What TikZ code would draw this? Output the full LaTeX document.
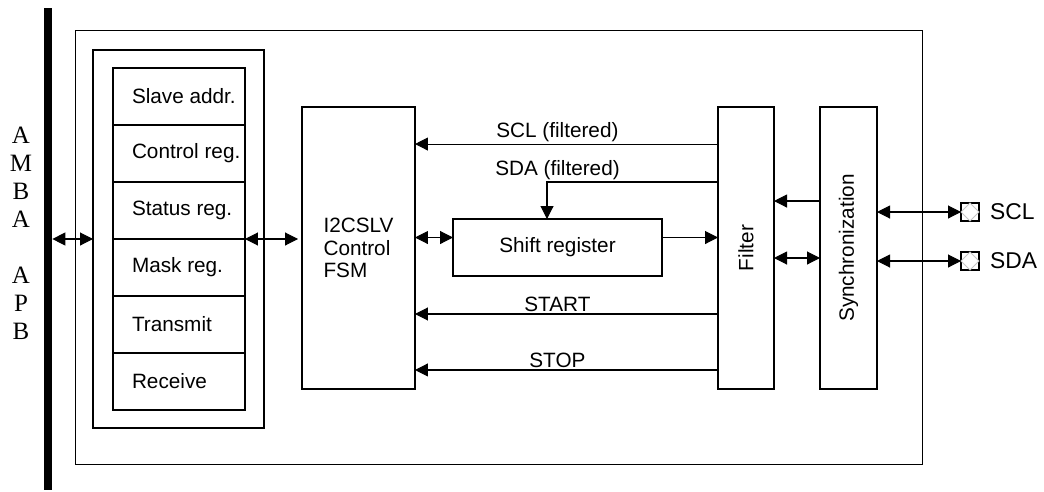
\documentclass[tikz,border=0pt]{standalone}
\usepackage{fontspec}
\setmainfont{Liberation Sans}
\newfontfamily\busfont{Liberation Serif}
\usetikzlibrary{arrows.meta,positioning}

\begin{document}
\begin{tikzpicture}[x=0.02cm, y=-0.02cm,
    font=\fontsize{11.8}{13}\selectfont,
    blk/.style={draw, line width=1.1pt, inner sep=0pt, outer sep=0pt},
    regrow/.style={blk, minimum width=2.64cm, minimum height=1.14cm, inner xsep=0.38cm},
    sig/.style={line width=0.6pt, -{Triangle[length=0.26cm, width=0.26cm]}},
    bisig/.style={line width=0.6pt, {Triangle[length=0.26cm, width=0.26cm]}-{Triangle[length=0.26cm, width=0.26cm]}},
    lbl/.style={inner sep=1pt},
    pad/.style={blk, minimum size=0.36cm}]
  \useasboundingbox (0,0) rectangle (1044,491);
  % APB bus
  \node[fill, inner sep=0pt, minimum width=0.16cm, minimum height=9.64cm] (apb) at (48,249) {};
  \node[font={\busfont\fontsize{14.2}{15.9}\selectfont}, align=center, inner sep=0pt] (apbname)
    at (21,233.5) {A\\M\\B\\A\\[15.9pt]A\\P\\B};
  % slave core
  \draw[line width=0.5pt] (75,30) rectangle (922,464);
  \node[blk, minimum width=3.42cm, minimum height=7.56cm] (regbox) at (178.5,239) {};
  \foreach \reg/\txt [count=\i] in {slave/Slave addr., control/Control reg., status/Status reg.,
      mask/Mask reg., transmit/Transmit, receive/Receive}
    \node[regrow] (\reg) at (179,39.5+57*\i) {\makebox[1.88cm][l]{\txt}};
  \node[blk, minimum width=2.26cm, minimum height=5.64cm, align=left] (fsm) at (358.5,248)
    {I2CSLV\\Control\\FSM};
  \node[blk, minimum width=4.18cm, minimum height=1.14cm] (shift) at (557.5,247.5) {Shift register};
  \node[blk, minimum width=1.12cm, minimum height=5.64cm] (filter) at (746,248) {\rotatebox{90}{Filter}};
  \node[blk, minimum width=1.14cm, minimum height=5.64cm] (sync) at (848.5,248)
    {\rotatebox{90}{Synchronization}};
  % pads
  \node[pad] (sclpad) at (970,212) {};
  \node[pad] (sdapad) at (970,261) {};
  \foreach \p in {sclpad,sdapad}
    \draw[gray!45, line width=0.5pt] (\p.north) -- (\p.east) -- (\p.south) -- (\p.west) -- cycle;
  \node[lbl, font=\fontsize{13}{15}\selectfont, right=0.18cm of sclpad] (scl) {SCL};
  \node[lbl, font=\fontsize{13}{15}\selectfont, right=0.18cm of sdapad] (sda) {SDA};
  % connections
  \draw[bisig] (apb.east |- regbox.west) -- (regbox.west);
  \draw[bisig, shorten >=0.08cm] (status.south east) -- (status.south east -| fsm.west);
  \coordinate (shin) at ([yshift=0.2cm]shift.west);
  \draw[bisig] (fsm.east |- shin) -- (shin);
  \draw[sig] (shift.east |- shin) -- (filter.west |- shin);
  \coordinate (sclf) at ([yshift=-0.74cm]filter.north west);
  \coordinate (sdaf) at ([yshift=-1.5cm]filter.north west);
  \coordinate (startf) at ([yshift=-4.14cm]filter.north west);
  \coordinate (stopf) at ([yshift=-5.26cm]filter.north west);
  \draw[sig] (sclf) -- (fsm.east |- sclf) node[lbl, above, pos=0.53] {SCL (filtered)};
  \draw[sig] (sdaf) -| ([xshift=-0.21cm]shift.north);
  \node[lbl, above] (sdalbl) at (sdaf -| shift.north) {SDA (filtered)};
  \draw[sig] (startf) -- (fsm.east |- startf) node[lbl, above, pos=0.53] {START};
  \draw[sig] (stopf) -- (fsm.east |- stopf) node[lbl, above, pos=0.53] {STOP};
  \coordinate (syncf) at ([yshift=-1.88cm]sync.north west);
  \coordinate (filtsync) at ([yshift=-3.02cm]sync.north west);
  \draw[sig] (syncf) -- (filter.east |- syncf);
  \draw[bisig] (filter.east |- filtsync) -- (filtsync);
  \draw[bisig] (sync.east |- sclpad.west) -- (sclpad.west);
  \draw[bisig] (sync.east |- sdapad.west) -- (sdapad.west);
\end{tikzpicture}
\end{document}
